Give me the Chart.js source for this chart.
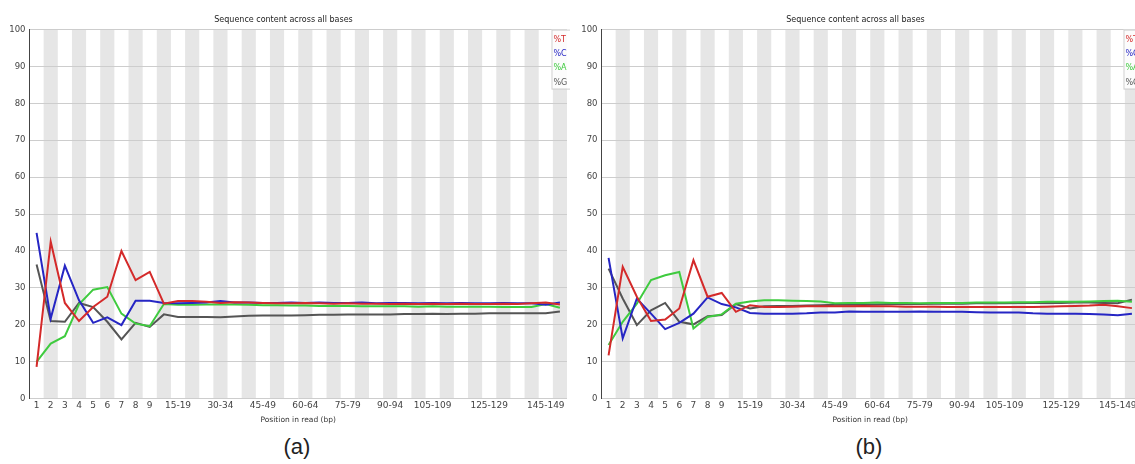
<!DOCTYPE html>
<html>
<head>
<meta charset="utf-8">
<script src="https://cdn.jsdelivr.net/npm/chart.js@4"></script>
<style>
  html, body { margin: 0; padding: 0; background: #fff; overflow: hidden; width: 1135px; height: 464px; }
  .panel { position: absolute; top: 0; width: 570px; height: 432px; }
  .cap { position: absolute; top: 434px; width: 100px; text-align: center; font: 22px "Liberation Sans", Arial, sans-serif; color: #222; }
</style>
</head>
<body>
<div class="panel" style="left:0"><canvas id="chartA" width="570" height="432"></canvas></div>
<div class="panel" style="left:572px"><canvas id="chartB" width="570" height="432"></canvas></div>
<div class="cap" style="left:247px">(a)</div>
<div class="cap" style="left:819px">(b)</div>
<script>
const POSITIONS = ['1', '2', '3', '4', '5', '6', '7', '8', '9', '10-14', '15-19', '20-24', '25-29', '30-34',
  '35-39', '40-44', '45-49', '50-54', '55-59', '60-64', '65-69', '70-74', '75-79', '80-84', '85-89',
  '90-94', '95-99', '100-104', '105-109', '110-114', '115-119', '120-124', '125-129', '130-134',
  '135-139', '140-144', '145-149', '150-151'];
const SHOWN_TICKS = ['1', '2', '3', '4', '5', '6', '7', '8', '9', '15-19', '30-34', '45-49', '60-64',
  '75-79', '90-94', '105-109', '125-129', '145-149'];
const Y_TICKS = [0, 10, 20, 30, 40, 50, 60, 70, 80, 90, 100];

// panel (a)
const T_A = [8.6, 42.5, 25.9, 21.0, 24.8, 27.6, 40.0, 32.1, 34.3, 25.7, 26.4, 26.4, 26.2, 25.9, 26.1, 26.0, 25.9, 25.8, 25.8, 25.9, 25.8, 25.7, 25.8, 25.7, 25.7, 25.6, 25.7, 25.6, 25.7, 25.6, 25.7, 25.6, 25.6, 25.7, 25.6, 25.8, 26.0, 25.5];
const C_A = [44.9, 21.7, 36.0, 26.6, 20.5, 22.0, 19.9, 26.5, 26.5, 25.9, 25.8, 25.9, 26.0, 26.4, 26.0, 26.0, 25.9, 25.9, 26.0, 25.9, 26.0, 25.9, 25.9, 26.0, 25.8, 25.9, 25.9, 25.8, 25.9, 25.8, 25.9, 25.8, 25.8, 25.9, 25.8, 25.8, 25.4, 26.0];
const A_A = [9.9, 14.9, 16.9, 25.5, 29.5, 30.2, 23.0, 20.3, 19.6, 25.6, 25.4, 25.4, 25.5, 25.5, 25.5, 25.4, 25.3, 25.3, 25.2, 25.2, 25.1, 25.1, 25.1, 25.0, 25.0, 25.0, 25.0, 24.9, 25.0, 24.9, 24.9, 24.9, 24.9, 24.8, 24.8, 24.8, 25.6, 24.6];
const G_A = [36.3, 21.0, 20.8, 25.9, 24.8, 20.8, 16.0, 20.5, 19.4, 22.8, 22.1, 22.1, 22.1, 22.0, 22.2, 22.4, 22.5, 22.5, 22.5, 22.6, 22.7, 22.7, 22.8, 22.8, 22.8, 22.8, 22.9, 22.9, 23.0, 22.9, 23.0, 23.0, 23.1, 23.1, 23.1, 23.1, 23.1, 23.6];

// panel (b)
const T_B = [11.7, 35.7, 27.6, 21.0, 21.4, 24.4, 37.5, 27.6, 28.6, 23.5, 25.3, 24.8, 24.8, 24.9, 25.0, 25.0, 25.0, 25.0, 25.1, 25.0, 25.0, 24.9, 24.9, 24.9, 24.8, 24.8, 24.8, 24.8, 24.8, 24.8, 24.8, 24.9, 25.0, 25.1, 25.2, 25.4, 25.0, 24.5];
const C_B = [38.1, 16.3, 27.1, 23.0, 18.8, 20.5, 23.0, 27.4, 25.6, 24.7, 23.2, 23.0, 23.0, 23.0, 23.1, 23.3, 23.3, 23.6, 23.5, 23.5, 23.5, 23.5, 23.6, 23.5, 23.5, 23.5, 23.4, 23.3, 23.3, 23.3, 23.1, 23.0, 23.0, 23.0, 22.9, 22.8, 22.6, 23.0];
const A_B = [14.5, 20.8, 25.7, 32.1, 33.4, 34.3, 19.0, 22.1, 22.8, 25.7, 26.3, 26.6, 26.6, 26.5, 26.4, 26.3, 25.8, 25.9, 25.9, 26.0, 25.9, 25.9, 25.8, 25.9, 25.9, 25.9, 26.0, 26.0, 26.0, 26.1, 26.1, 26.2, 26.2, 26.2, 26.3, 26.4, 26.5, 26.2];
const G_B = [35.2, 27.1, 19.9, 23.9, 25.9, 20.8, 20.1, 22.3, 22.6, 25.6, 24.4, 25.0, 25.1, 25.1, 25.2, 25.3, 25.4, 25.4, 25.5, 25.5, 25.6, 25.6, 25.6, 25.7, 25.7, 25.7, 25.8, 25.8, 25.8, 25.9, 25.9, 25.9, 25.9, 26.0, 26.0, 25.9, 25.8, 26.8];

const COLORS = { T: '#d42a2a', C: '#2626c4', A: '#3fcb3f', G: '#555555' };

// alternating grey columns behind the plot
const bandsPlugin = {
  id: 'bands',
  beforeDraw(chart) {
    const { ctx, chartArea, scales } = chart;
    const x = scales.x;
    const w = chartArea.width / POSITIONS.length;
    ctx.save();
    ctx.fillStyle = '#e6e6e6';
    POSITIONS.forEach((p, i) => {
      if (i % 2 === 1) {
        const cx = x.getPixelForValue(i);
        ctx.fillRect(cx - w / 2, chartArea.top, w, chartArea.height);
      }
    });
    ctx.restore();
  }
};

// small legend box in the top right corner
const cornerLegend = {
  id: 'cornerLegend',
  afterDraw(chart) {
    const { ctx, chartArea } = chart;
    const left = chartArea.right - 15.5;
    const top = chartArea.top;
    ctx.save();
    ctx.fillStyle = 'rgba(255,255,255,0.85)';
    ctx.fillRect(left, top, 30, 59);
    ctx.strokeStyle = '#cfcfcf';
    ctx.lineWidth = 1;
    ctx.strokeRect(left + 0.5, top + 0.5, 30, 59);
    ctx.font = '8px "DejaVu Sans"';
    ctx.textBaseline = 'middle';
    chart.data.datasets.forEach((ds, i) => {
      ctx.fillStyle = ds.borderColor;
      ctx.fillText(ds.label, left + 2, top + 10 + i * 14.4);
    });
    ctx.restore();
  }
};

const makeChart = (id, t, c, a, g) => new Chart(document.getElementById(id).getContext('2d'), {
  type: 'line',
  data: {
    labels: POSITIONS,
    datasets: [
      { label: '%T', data: t, borderColor: COLORS.T },
      { label: '%C', data: c, borderColor: COLORS.C },
      { label: '%A', data: a, borderColor: COLORS.A },
      { label: '%G', data: g, borderColor: COLORS.G }
    ]
  },
  options: {
    responsive: false,
    animation: false,
    layout: { padding: { left: 0, right: 3, top: 0, bottom: 0 } },
    elements: {
      line: { borderWidth: 2, tension: 0, fill: false },
      point: { radius: 0 }
    },
    plugins: {
      legend: { display: false },
      tooltip: { enabled: false },
      title: {
        display: true,
        text: 'Sequence content across all bases',
        color: '#222',
        font: { family: 'DejaVu Sans', size: 8, weight: 'normal' },
        padding: { top: 15, bottom: 5 }
      }
    },
    scales: {
      x: {
        offset: true,
        grid: { display: false, drawTicks: false },
        border: { display: false },
        ticks: {
          autoSkip: false,
          maxRotation: 0,
          padding: 2,
          color: '#444',
          font: { family: 'DejaVu Sans', size: 9 },
          callback: (v, i) => SHOWN_TICKS.includes(POSITIONS[i]) ? POSITIONS[i] : ''
        },
        title: {
          display: true,
          text: 'Position in read (bp)',
          color: '#333',
          font: { family: 'DejaVu Sans', size: 7.5 },
          padding: { top: 0, bottom: 7 }
        },
        afterFit: (s) => { s.height = 33.5; }
      },
      y: {
        min: 0,
        max: 100,
        afterBuildTicks: (s) => { s.ticks = Y_TICKS.map(v => ({ value: v })); },
        grid: { color: '#cdcdcd', drawTicks: false },
        border: { display: true, color: '#444', width: 1 },
        ticks: {
          padding: 4,
          color: '#444',
          font: { family: 'DejaVu Sans', size: 8.5 }
        },
        afterFit: (s) => { s.width = 29.5; }
      }
    }
  },
  plugins: [bandsPlugin, cornerLegend]
});

makeChart('chartA', T_A, C_A, A_A, G_A);
makeChart('chartB', T_B, C_B, A_B, G_B);
</script>
</body>
</html>
